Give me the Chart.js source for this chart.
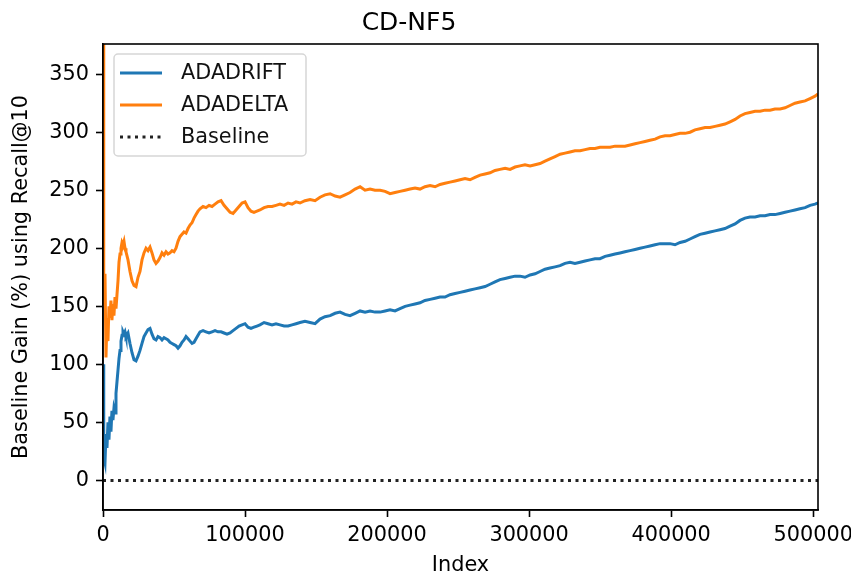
<!DOCTYPE html>
<html>
<head>
<meta charset="utf-8">
<script src="https://cdn.jsdelivr.net/npm/chart.js@4.4.1/dist/chart.umd.min.js"></script>
<style>
html,body{margin:0;padding:0;background:#fff;}
#c{display:block;}
</style>
</head>
<body>
<canvas id="c" width="851" height="577"></canvas>
<script>
// ---- data ----
const chartTitle = "CD-NF5";
const xTitle = "Index";
const yTitle = "Baseline Gain (%) using Recall@10";
const seriesNames = ["ADADRIFT", "ADADELTA", "Baseline"];

const indexValues = [
  0, 350, 700, 1400, 2100, 2800, 3500, 4200, 4900, 5600, 6300, 7000, 7700, 8450, 9150, 9850,
  10560, 11260, 11970, 12670, 13380, 14080, 14780, 15490, 16190, 17600, 19000, 20420, 21830,
  23240, 24650, 26050, 27460, 28870, 30280, 31690, 33100, 34500, 35900, 37320, 38730, 40140,
  41550, 42960, 44360, 45770, 47180, 48590, 50000, 51400, 52810, 54220, 55630, 57040, 58450,
  59860, 61260, 62670, 64080, 65490, 66900, 68310, 70420, 72530, 74650, 76760, 78870, 80980,
  83100, 85210, 87320, 89440, 91550, 93660, 95780, 97890, 100000, 102100, 104200, 106300,
  108400, 110500, 113400, 116200, 119000, 121800, 124600, 127500, 130300, 133100, 135900,
  138700, 142200, 145800, 149300, 152800, 156300, 159900, 163400, 166900, 170400, 173900,
  177500, 181000, 184500, 188000, 191500, 195100, 198600, 202100, 205600, 209100, 212700,
  216200, 219700, 223200, 226700, 230300, 233800, 237300, 240800, 244300, 247900, 251400,
  254900, 258400, 261900, 265500, 269000, 272500, 276000, 279500, 283100, 286600, 290100,
  293600, 297100, 300700, 304200, 307700, 311200, 314700, 318300, 321800, 325300, 328800,
  332300, 335900, 339400, 342900, 346400, 349900, 353500, 357000, 360500, 364000, 367500,
  371100, 374600, 378100, 381600, 385100, 388700, 392200, 395700, 399200, 402700, 406300,
  409800, 413300, 416800, 420300, 423900, 427400, 430900, 434400, 437900, 441500, 445000,
  448500, 452000, 455500, 459100, 462600, 466100, 469600, 473100, 476700, 480200, 483700,
  487200, 490700, 494300, 497800, 501300, 503400
];

const adadrift = [
  100, 60, 20, 15, 40, 28, 50, 35, 55, 42, 60, 52, 62, 58, 75, 85,
  95, 105, 112, 120, 125, 128, 126, 128, 124, 127, 118, 110, 104,
  103, 107, 112, 118, 124, 127, 130, 131, 126, 122, 121, 124, 123,
  121, 123, 122, 121, 119, 118, 117, 116, 114, 116, 119, 121, 124,
  122, 120, 118, 119, 122, 125, 128, 129, 128, 127, 128, 129, 128,
  128, 127, 126, 127, 129, 131, 133, 134, 135, 132, 131, 132,
  133, 134, 136, 135, 134, 135, 134, 133, 133, 134, 135,
  136, 137, 136, 135, 139, 141, 142, 144, 145, 143, 142,
  144, 146, 145, 146, 145, 145, 146, 147, 146, 148, 150,
  151, 152, 153, 155, 156, 157, 158, 158, 160, 161, 162,
  163, 164, 165, 166, 167, 169, 171, 173, 174, 175, 176,
  176, 175, 177, 178, 180, 182, 183, 184, 185, 187, 188,
  187, 188, 189, 190, 191, 191, 193, 194, 195, 196, 197,
  198, 199, 200, 201, 202, 203, 204, 204, 204, 203, 205,
  206, 208, 210, 212, 213, 214, 215, 216, 217, 219, 221,
  224, 226, 227, 227, 228, 228, 229, 229, 230, 231, 232,
  233, 234, 235, 237, 238, 239
];

const adadelta = [
  380, 300, 150, 178, 106, 140, 120, 150, 140, 155, 138, 152, 142, 158, 148, 160,
  172, 188, 195, 200, 205, 203, 206, 200, 197, 190, 180, 172, 168,
  167, 175, 180, 190, 196, 200, 198, 201, 196, 190, 187, 189, 192,
  196, 194, 197, 195, 196, 198, 197, 200, 206, 210, 212, 214, 213,
  217, 220, 222, 226, 229, 232, 234, 236, 235, 237, 236, 238, 240,
  241, 237, 234, 231, 230, 233, 236, 239, 240, 235, 232, 231,
  232, 233, 235, 236, 236, 237, 238, 237, 239, 238, 240,
  239, 241, 242, 241, 244, 246, 247, 245, 244, 246, 248,
  251, 253, 250, 251, 250, 250, 249, 247, 248, 249, 250,
  251, 252, 251, 253, 254, 253, 255, 256, 257, 258, 259,
  260, 259, 261, 263, 264, 265, 267, 268, 269, 268, 270,
  271, 272, 271, 272, 273, 275, 277, 279, 281, 282, 283,
  284, 284, 285, 286, 286, 287, 287, 287, 288, 288, 288,
  289, 290, 291, 292, 293, 294, 296, 297, 297, 298, 299,
  299, 300, 302, 303, 304, 304, 305, 306, 307, 309, 311,
  314, 316, 317, 318, 318, 319, 319, 320, 320, 321, 323,
  325, 326, 327, 329, 331, 333
];

const baselineIndex = [0, 503400];
const baselineValues = [0, 0];

const xTicksValues = [0, 100000, 200000, 300000, 400000, 500000];
const yTickValues = [0, 50, 100, 150, 200, 250, 300, 350];

// ---- chart ----
const FONT = "'DejaVu Sans', sans-serif";
const toPoints = (xs, ys) => xs.map((x, i) => ({x: x, y: ys[i]}));

const frameAndLegend = {
  id: 'frameAndLegend',
  afterDatasetsDraw(chart) {
    const ctx = chart.ctx;
    const a = chart.chartArea;
    ctx.save();
    // axes frame (all four spines)
    ctx.strokeStyle = '#000';
    ctx.lineWidth = 1.6;
    ctx.strokeRect(a.left, a.top, a.right - a.left, a.bottom - a.top);

    // legend box
    const bx = a.left + 11, by = a.top + 10, bw = 192, bh = 102, r = 4;
    ctx.globalAlpha = 0.8;
    ctx.fillStyle = '#fff';
    ctx.beginPath();
    ctx.moveTo(bx + r, by);
    ctx.arcTo(bx + bw, by, bx + bw, by + bh, r);
    ctx.arcTo(bx + bw, by + bh, bx, by + bh, r);
    ctx.arcTo(bx, by + bh, bx, by, r);
    ctx.arcTo(bx, by, bx + bw, by, r);
    ctx.closePath();
    ctx.fill();
    ctx.globalAlpha = 1;
    ctx.strokeStyle = '#d6d6d6';
    ctx.lineWidth = 1.5;
    ctx.stroke();

    ctx.font = "20.8px " + FONT;
    ctx.textBaseline = 'middle';
    ctx.textAlign = 'left';
    chart.data.datasets.forEach((ds, i) => {
      const yy = by + 19 + i * 32;
      ctx.beginPath();
      ctx.strokeStyle = ds.borderColor;
      ctx.lineWidth = ds.borderWidth;
      ctx.setLineDash(ds.borderDash || []);
      ctx.moveTo(bx + 6, yy);
      ctx.lineTo(bx + 48, yy);
      ctx.stroke();
      ctx.setLineDash([]);
      ctx.fillStyle = '#111';
      ctx.fillText(ds.label, bx + 67, yy + 1);
    });
    ctx.restore();
  }
};

new Chart(document.getElementById('c'), {
  type: 'line',
  data: {
    datasets: [
      {
        label: seriesNames[0],
        data: toPoints(indexValues, adadrift),
        borderColor: '#1f77b4',
        borderWidth: 3,
        pointRadius: 0,
        tension: 0,
        fill: false
      },
      {
        label: seriesNames[1],
        data: toPoints(indexValues, adadelta),
        borderColor: '#ff7f0e',
        borderWidth: 3,
        pointRadius: 0,
        tension: 0,
        fill: false
      },
      {
        label: seriesNames[2],
        data: toPoints(baselineIndex, baselineValues),
        borderColor: '#222',
        borderWidth: 3,
        borderDash: [3, 4.5],
        pointRadius: 0,
        tension: 0,
        fill: false
      }
    ]
  },
  options: {
    responsive: false,
    animation: false,
    devicePixelRatio: 1,
    layout: { padding: { left: 0, right: 33, top: 0, bottom: 0 } },
    plugins: {
      legend: { display: false },
      tooltip: { enabled: false },
      title: {
        display: true,
        text: chartTitle,
        color: '#000',
        font: { family: FONT, size: 25, weight: 'normal', lineHeight: 1.2 },
        padding: { top: 8, bottom: 6 }
      }
    },
    scales: {
      x: {
        type: 'linear',
        min: 0,
        max: 503400,
        afterFit(s) { s.height = 67; s.paddingLeft = 0; s.paddingRight = 0; },
        afterBuildTicks(s) { s.ticks = xTicksValues.map(v => ({value: v})); },
        ticks: {
          includeBounds: false,
          color: '#000',
          padding: 6,
          maxRotation: 0,
          autoSkip: false,
          font: { family: FONT, size: 20.8 },
          callback: v => String(v)
        },
        grid: { drawOnChartArea: false, drawTicks: true, tickLength: 7, tickColor: '#000', tickWidth: 1.6 },
        border: { display: true, color: '#000', width: 1.6 },
        title: {
          display: true,
          text: xTitle,
          color: '#000',
          font: { family: FONT, size: 20.8, lineHeight: 1.0 },
          padding: { top: 0, bottom: 1 }
        }
      },
      y: {
        type: 'linear',
        min: -25.5,
        max: 376,
        afterFit(s) { s.width = 103; s.paddingTop = 0; s.paddingBottom = 0; },
        afterBuildTicks(s) { s.ticks = yTickValues.map(v => ({value: v})); },
        ticks: {
          includeBounds: false,
          color: '#000',
          padding: 7,
          autoSkip: false,
          font: { family: FONT, size: 20.8 },
          callback: v => String(v)
        },
        grid: { drawOnChartArea: false, drawTicks: true, tickLength: 7, tickColor: '#000', tickWidth: 1.6 },
        border: { display: true, color: '#000', width: 1.6 },
        title: {
          display: true,
          text: yTitle,
          color: '#000',
          font: { family: FONT, size: 20.8, lineHeight: 1.2 },
          padding: { top: 9, bottom: 0 }
        }
      }
    }
  },
  plugins: [frameAndLegend]
});
</script>
</body>
</html>
